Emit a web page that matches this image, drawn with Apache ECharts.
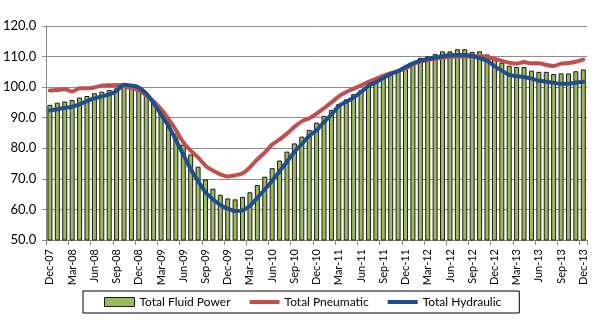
<!DOCTYPE html>
<html>
<head>
<meta charset="utf-8">
<script src="https://cdn.jsdelivr.net/npm/echarts@6/dist/echarts.min.js"></script>
<style>
  html, body { margin: 0; padding: 0; background: #fff; }
  #chart { width: 595px; height: 335px; }
</style>
</head>
<body>
<div id="chart"></div>
<script>
// Monthly index values, Dec-07 through Dec-13
const months = ['Jan', 'Feb', 'Mar', 'Apr', 'May', 'Jun', 'Jul', 'Aug', 'Sep', 'Oct', 'Nov', 'Dec'];
const categories = ['Dec-07'];
for (let y = 8; y <= 13; y++) {
  for (const m of months) categories.push(m + '-' + String(y).padStart(2, '0'));
}

const fluidPower = [
  94.2, 94.9, 95.3, 95.8, 96.6, 97.1, 98.0, 98.5, 99.1, 99.6, 100.4, 100.0,
  99.6, 98.0, 95.6, 92.6, 88.8, 84.8, 81.2, 78.0, 74.0, 69.8, 66.8, 64.8,
  63.6, 63.3, 64.1, 65.6, 68.0, 70.7, 73.5, 76.0, 78.9, 81.6, 83.8, 86.0,
  88.4, 90.6, 92.5, 94.5, 96.0, 97.7, 99.0, 100.3, 101.8, 102.9, 104.0, 105.4,
  106.3, 108.2, 109.6, 110.1, 110.8, 111.7, 111.7, 112.4, 112.4, 111.5, 111.7, 110.7,
  109.2, 108.0, 107.0, 106.6, 106.6, 105.4, 105.0, 105.0, 104.3, 104.5, 104.5, 105.2,
  105.8
];

const pneumatic = [
  98.9, 99.1, 99.3, 98.6, 99.6, 99.6, 99.9, 100.5, 100.6, 100.7, 100.4, 99.6,
  99.0, 97.3, 95.3, 92.8, 89.6, 86.0, 82.0, 79.2, 77.0, 74.3, 72.7, 71.5,
  70.8, 71.2, 71.8, 73.8, 76.4, 78.6, 81.2, 82.9, 84.8, 87.0, 88.8, 89.8,
  91.3, 93.1, 95.0, 97.0, 98.4, 99.5, 100.6, 101.7, 102.7, 103.7, 104.6, 105.3,
  106.0, 107.5, 108.4, 108.9, 109.3, 109.6, 109.9, 110.0, 110.0, 110.1, 110.2, 109.8,
  109.3, 108.6, 108.0, 107.7, 108.2, 107.8, 107.8, 107.3, 106.9, 107.7, 107.9, 108.3,
  109.0
];

const hydraulic = [
  92.4, 92.8, 93.2, 93.6, 94.4, 95.4, 96.3, 97.0, 97.6, 98.8, 100.8, 100.5,
  99.9, 98.0, 94.8, 91.0, 87.3, 82.7, 78.0, 73.2, 69.3, 65.6, 63.3, 61.5,
  60.3, 59.5, 59.7, 61.2, 63.8, 66.5, 69.4, 72.5, 75.6, 78.8, 81.4, 84.0,
  85.9, 88.6, 91.0, 93.8, 95.2, 96.6, 98.4, 100.4, 101.6, 103.0, 104.3, 105.2,
  106.6, 107.8, 108.6, 109.2, 109.7, 110.1, 110.4, 110.5, 110.5, 110.2, 109.5, 108.6,
  106.9, 105.4, 104.0, 103.6, 103.3, 102.8, 102.1, 101.8, 101.4, 101.1, 101.1, 101.5,
  101.8
];

const yTicks = { min: 50, max: 120, step: 10 };

const FONT = 'Lato, "Open Sans", sans-serif';
const chart = echarts.init(document.getElementById('chart'), null, { renderer: 'canvas' });

chart.setOption({
  animation: false,
  backgroundColor: '#fff',
  textStyle: { fontFamily: FONT },
  grid: { left: 45, right: 8, top: 26, bottom: 95, containLabel: false },
  legend: {
    left: 83,
    top: 291,
    orient: 'horizontal',
    borderColor: '#000',
    borderWidth: 1,
    padding: [5, 18, 5, 21],
    itemGap: 19,
    itemWidth: 30,
    itemHeight: 9,
    textStyle: { fontFamily: FONT, fontSize: 12, color: '#000' },
    data: [
      { name: 'Total Fluid Power', icon: 'rect', itemStyle: { color: '#9BBB59', borderColor: '#1a1a1a', borderWidth: 1 } },
      { name: 'Total Pneumatic', icon: 'path://M0,0 L30,0 L30,4 L0,4 Z', itemStyle: { color: '#C0504D' } },
      { name: 'Total Hydraulic', icon: 'path://M0,0 L30,0 L30,4 L0,4 Z', itemStyle: { color: '#1F4E8C' } }
    ]
  },
  xAxis: {
    type: 'category',
    data: categories,
    boundaryGap: true,
    axisLine: { lineStyle: { color: '#868686', width: 1 } },
    axisTick: { show: true, interval: 2, length: 5, lineStyle: { color: '#868686' } },
    axisLabel: {
      interval: 2,
      rotate: 90,
      margin: 9,
      fontSize: 11,
      color: '#000',
      fontFamily: FONT
    },
    splitLine: { show: false }
  },
  yAxis: {
    type: 'value',
    min: yTicks.min,
    max: yTicks.max,
    interval: yTicks.step,
    axisLine: { show: true, lineStyle: { color: '#868686', width: 1 } },
    axisTick: { show: true, length: 4, lineStyle: { color: '#868686' } },
    axisLabel: {
      margin: 10,
      fontSize: 13,
      color: '#000',
      fontFamily: FONT,
      formatter: v => v.toFixed(1)
    },
    splitLine: { show: true, lineStyle: { color: '#8c8c8c', width: 1 } }
  },
  series: [
    {
      name: 'Total Fluid Power',
      type: 'bar',
      data: fluidPower,
      barWidth: 5,
      itemStyle: { color: '#9BBB59', borderColor: '#1a1a1a', borderWidth: 1 },
      z: 1
    },
    {
      name: 'Total Pneumatic',
      type: 'line',
      data: pneumatic,
      symbol: 'none',
      smooth: 0.3,
      lineStyle: { color: '#C0504D', width: 4, cap: 'round', join: 'round' },
      itemStyle: { color: '#C0504D' },
      z: 3
    },
    {
      name: 'Total Hydraulic',
      type: 'line',
      data: hydraulic,
      symbol: 'none',
      smooth: 0.3,
      lineStyle: { color: '#1F4E8C', width: 4, cap: 'round', join: 'round' },
      itemStyle: { color: '#1F4E8C' },
      z: 4
    }
  ]
});
</script>
</body>
</html>
